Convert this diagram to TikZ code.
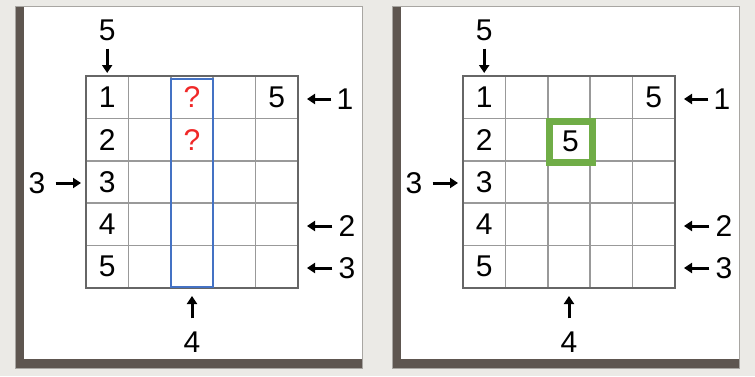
\documentclass[tikz,border=0pt]{standalone}
\usepackage{fontspec}
\setmainfont{Liberation Sans}
\usetikzlibrary{arrows.meta}
\definecolor{bg}{HTML}{EBEAE6}
\definecolor{shadowc}{HTML}{5E5650}
\definecolor{panelline}{HTML}{A8A6A2}
\definecolor{gridc}{HTML}{999999}
\definecolor{outerc}{HTML}{666666}
\definecolor{bluec}{HTML}{4472C4}
\definecolor{redc}{HTML}{F02828}
\definecolor{greenc}{HTML}{70AD47}
\begin{document}
\begin{tikzpicture}[x=1pt,y=-1pt,
  num/.style={font=\fontsize{30}{36}\selectfont, inner sep=0pt},
  clue/.style={line width=3pt, -{Triangle[length=8pt,width=10pt]}},
  gridline/.style={gridc, line width=1.5pt},
  gridframe/.style={outerc, line width=2pt}]
\fill[bg] (0,0) rectangle (755,376);
\useasboundingbox (0,0) rectangle (755,376);
\foreach \ox/\p in {0/L,377/R} {
\begin{scope}[xshift=\ox pt]
  % panel
  \fill[shadowc] (15,6) rectangle (362,368);
  \fill[white] (24,6) rectangle (362,359);
  \draw[panelline, line width=1pt] (15,6) rectangle (362,368);
  % grid
  \foreach \i in {1,...,4} {
    \draw[gridline] (86+42.4*\i,76) -- ++(0,212);
    \draw[gridline] (86,76+42.4*\i) -- ++(212,0);
  }
  \draw[gridframe] (86,76) rectangle (298,288);
  % first column
  \foreach \r in {1,...,5} {
    \node[num] (\p r\r) at (107.2,54.8+42.4*\r) {\r};
  }
  \node[num] (\p c15) at (276.8,97.2) {5};
  % clues
  \node[num] (\p top) at (107.2,30) {5};
  \coordinate (\p topt) at (107.2,73);
  \draw[clue, shorten <=8pt] (\p top) -- (\p topt);
  \node[num] (\p left) at (37,183) {3};
  \coordinate (\p leftt) at (81,183);
  \draw[clue, shorten <=10pt] (\p left) -- (\p leftt);
  \node[num] (\p ra) at (345,99) {1};
  \coordinate (\p rat) at (307,99);
  \draw[clue, shorten <=5pt] (\p ra) -- (\p rat);
  \node[num] (\p rb) at (347,226) {2};
  \coordinate (\p rbt) at (307,226);
  \draw[clue, shorten <=6pt] (\p rb) -- (\p rbt);
  \node[num] (\p rc) at (347,268) {3};
  \coordinate (\p rct) at (307,268);
  \draw[clue, shorten <=6pt] (\p rc) -- (\p rct);
  \node[num] (\p bot) at (192,342) {4};
  \coordinate (\p bott) at (192,296);
  \draw[clue, shorten <=13pt] (\p bot) -- (\p bott);
\end{scope}
}
% left panel highlights
\draw[bluec, line width=2.5pt] (170.8,79) rectangle (213.2,287);
\node[num, text=redc] (q1) at (192,97.2) {?};
\node[num, text=redc] (q2) at (192,139.6) {?};
% right panel highlight
\begin{scope}[xshift=377pt]
  \draw[greenc, line width=7pt] (172,121) rectangle (215,162);
  \node[num] (g5) at (193.5,141) {5};
\end{scope}
\end{tikzpicture}
\end{document}
